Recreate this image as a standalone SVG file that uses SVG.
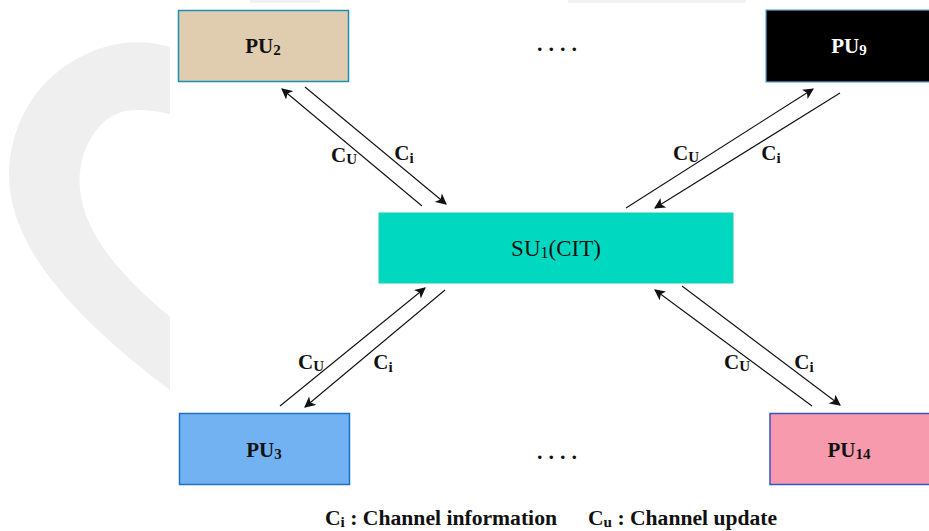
<svg xmlns="http://www.w3.org/2000/svg" width="929" height="531" viewBox="0 0 929 531">
  <defs>
    <marker id="ah" viewBox="0 0 10 10" refX="9" refY="5" markerWidth="11" markerHeight="11" markerUnits="userSpaceOnUse" orient="auto">
      <path d="M0,0 L10,5 L0,10 L2.5,5 Z" fill="#111"/>
    </marker>
    <style>
      .node text { font-family: "Liberation Serif", "Times New Roman", serif; text-anchor: middle; }
      .lbl { font-family: "Liberation Serif", "Times New Roman", serif; font-weight: bold; font-size: 21px; fill: #111; text-anchor: middle; }
      .conn line { stroke: #111; stroke-width: 1.1; fill: none; marker-end: url(#ah); }
      .dots { font-family: "Liberation Serif", serif; font-weight: bold; font-size: 22px; fill: #111; text-anchor: middle; letter-spacing: 6px; }
      .legend { font-family: "Liberation Serif", "Times New Roman", serif; font-weight: bold; font-size: 20px; fill: #111; }
    </style>
  </defs>
  <rect width="929" height="531" fill="#ffffff"/>
  <!-- watermark -->
  <path d="M170,47 C140,38 100,40 60,70 C20,100 5,150 10,190 C18,260 90,330 170,390 L170,317 C120,275 85,235 80,190 C76,150 100,110 135,110 C150,110 160,112 170,114 Z" fill="#efefef"/>
  <rect x="250" y="0" width="70" height="3" fill="#f1f1f1"/>
  <rect x="568" y="0" width="178" height="3" fill="#f3f3f3"/>

  <g id="PU2" class="node">
    <rect x="178.5" y="10.5" width="170" height="71" fill="#e0cdb0" stroke="#1a8fb5" stroke-width="1.5"/>
    <text x="263" y="53" font-size="21" font-weight="bold" fill="#111">PU<tspan font-size="15" dy="2">2</tspan></text>
  </g>
  <g id="PU9" class="node">
    <rect x="766" y="10" width="170" height="72" fill="#000000" stroke="#5aa9d0" stroke-width="1.2"/>
    <text x="849" y="53" font-size="21" font-weight="bold" fill="#ffffff">PU<tspan font-size="15" dy="2">9</tspan></text>
  </g>
  <g id="SU1" class="node">
    <rect x="379" y="213" width="354" height="70" fill="#00d9c0" stroke="#20c8b0" stroke-width="1"/>
    <text x="556" y="256" font-size="23" fill="#111">SU<tspan font-size="16" dy="2">1</tspan><tspan dy="-2">(CIT)</tspan></text>
  </g>
  <g id="PU3" class="node">
    <rect x="179.5" y="413.5" width="170" height="71" fill="#72b2f2" stroke="#1f6fc5" stroke-width="1.5"/>
    <text x="264" y="457" font-size="21" font-weight="bold" fill="#111">PU<tspan font-size="15" dy="2">3</tspan></text>
  </g>
  <g id="PU14" class="node">
    <rect x="770" y="413.5" width="170" height="71" fill="#f79aae" stroke="#3355c8" stroke-width="1.5"/>
    <text x="849" y="457" font-size="21" font-weight="bold" fill="#111">PU<tspan font-size="15" dy="2">14</tspan></text>
  </g>

  <text class="dots" x="560" y="51">....</text>
  <text class="dots" x="560" y="459">....</text>

  <g id="connectors" class="conn">
    <line x1="422" y1="206" x2="282" y2="89"/>
    <line x1="305" y1="87" x2="446" y2="204"/>
    <line x1="626" y1="208" x2="813" y2="89"/>
    <line x1="840" y1="93" x2="655" y2="208"/>
    <line x1="280" y1="406" x2="425" y2="288"/>
    <line x1="445" y1="290" x2="305" y2="407"/>
    <line x1="812" y1="406" x2="655" y2="290"/>
    <line x1="682" y1="286" x2="840" y2="405"/>
  </g>

  <g id="labels">
    <text class="lbl" x="344" y="162">C<tspan font-size="15" dy="2">U</tspan></text>
    <text class="lbl" x="404" y="160">C<tspan font-size="15" dy="3">i</tspan></text>
    <text class="lbl" x="686" y="160">C<tspan font-size="15" dy="2">U</tspan></text>
    <text class="lbl" x="771" y="160">C<tspan font-size="15" dy="3">i</tspan></text>
    <text class="lbl" x="311" y="369">C<tspan font-size="15" dy="2">U</tspan></text>
    <text class="lbl" x="383" y="369">C<tspan font-size="15" dy="3">i</tspan></text>
    <text class="lbl" x="737" y="369">C<tspan font-size="15" dy="2">U</tspan></text>
    <text class="lbl" x="804" y="369">C<tspan font-size="15" dy="3">i</tspan></text>
  </g>

  <g id="legend">
    <text class="legend" x="325" y="525" textLength="232" lengthAdjust="spacingAndGlyphs">C<tspan font-size="14" dy="2">i</tspan><tspan dy="-2"> : Channel information</tspan></text>
    <text class="legend" x="588" y="525" textLength="189" lengthAdjust="spacingAndGlyphs">C<tspan font-size="14" dy="2">u</tspan><tspan dy="-2"> : Channel update</tspan></text>
  </g>
</svg>
